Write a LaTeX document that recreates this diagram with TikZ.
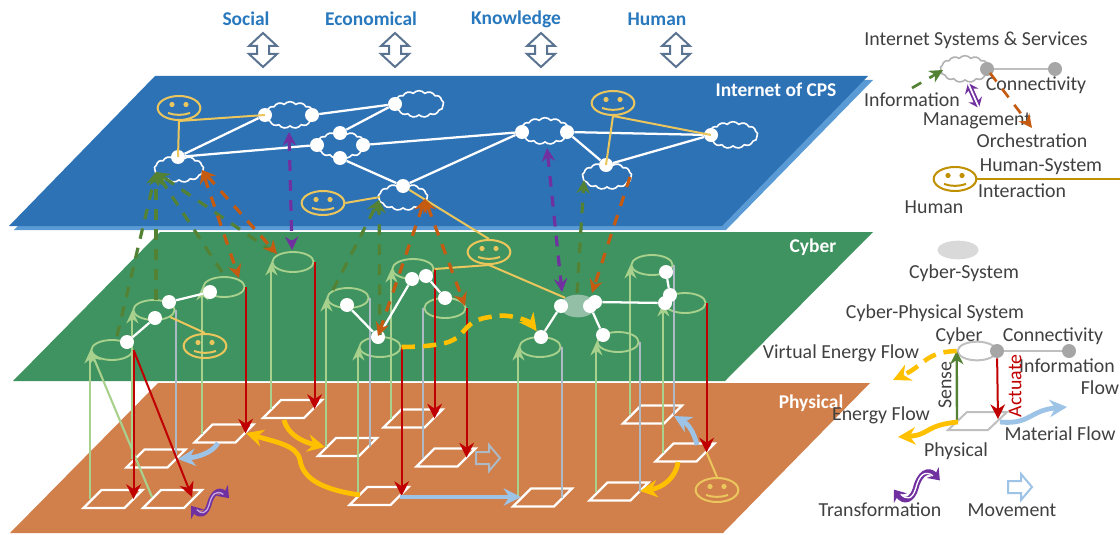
\documentclass[tikz,border=0pt]{standalone}
\usepackage{fontspec}
\setmainfont{Carlito}
\usetikzlibrary{arrows.meta,shapes.geometric,shapes.symbols,calc}
\definecolor{planeblue}{HTML}{2E72B6}
\definecolor{planeblue2}{HTML}{5B9BD5}
\definecolor{planegreen}{HTML}{3F9360}
\definecolor{planeorange}{HTML}{D17F4B}
\definecolor{smile}{HTML}{EBC65C}
\definecolor{smiledark}{HTML}{BF9000}
\definecolor{sensegreen}{HTML}{A9D18E}
\definecolor{cylgrey}{HTML}{AEB9C6}
\definecolor{actred}{HTML}{C00000}
\definecolor{flowyellow}{HTML}{FFC000}
\definecolor{flowblue}{HTML}{9DC3E6}
\definecolor{purp}{HTML}{7030A0}
\definecolor{dashorange}{HTML}{C55A11}
\definecolor{dashgreen}{HTML}{548235}
\definecolor{labelgrey}{HTML}{404040}
\definecolor{labelblue}{HTML}{2878BE}
\definecolor{topgrey}{HTML}{5A7391}
\definecolor{csysfill}{HTML}{92BFA6}
\definecolor{glyphinner}{HTML}{C8A8E0}
\tikzset{
  plane/.style={fill=#1,draw=none},
  netline/.style={draw=white,line width=1.7pt},
  dot/.style={circle,fill=white,draw=none,minimum size=10.5pt,inner sep=0pt},
  netcloud/.style={cloud,cloud puffs=13,cloud puff arc=100,aspect=2,draw=white,line width=1.2pt,minimum width=37pt,minimum height=20pt,inner sep=0pt},
  plate/.style={draw=white,line width=1.7pt},
  cyltop/.style={ellipse,draw=#1,line width=1.4pt,minimum width=31pt,minimum height=15pt,inner sep=0pt},
  sensearrow/.style={draw=sensegreen,line width=1.6pt,-{Stealth[length=10pt,width=9pt]}},
  cylside/.style={draw=cylgrey,line width=1.6pt},
  actarrow/.style={draw=actred,line width=1.5pt,-{Stealth[length=11pt,width=11pt]}},
  dpurple/.style={draw=purp,line width=2.4pt,dash pattern=on 8pt off 7pt,{Stealth[length=10pt,width=10pt]}-{Stealth[length=10pt,width=10pt]}},
  dorange/.style={draw=dashorange,line width=2.4pt,dash pattern=on 8pt off 7pt,{Stealth[length=10pt,width=10pt]}-{Stealth[length=10pt,width=10pt]}},
  dorangeone/.style={draw=dashorange,line width=2.4pt,dash pattern=on 8pt off 7pt,-{Stealth[length=10pt,width=10pt]}},
  dgreen/.style={draw=dashgreen,line width=2.4pt,dash pattern=on 8pt off 7pt,-{Stealth[length=10pt,width=10pt]}},
  yellowline/.style={draw=smile,line width=1.5pt},
  yflow/.style={draw=flowyellow,line width=3.6pt,-{Stealth[length=13pt,width=13pt]}},
  bflow/.style={draw=flowblue,line width=3.6pt,-{Stealth[length=13pt,width=13pt]}},
  yflowdash/.style={draw=flowyellow,line width=3.4pt,dash pattern=on 10pt off 6pt,-{Stealth[length=13pt,width=13pt]}},
  lab/.style={text=labelgrey,font=\fontsize{14.9}{16}\selectfont,inner sep=0pt},
  toplab/.style={text=labelblue,font=\fontsize{14.6}{16}\selectfont\bfseries,inner sep=0pt},
  planelab/.style={text=white,font=\fontsize{14.6}{16}\selectfont\bfseries,inner sep=0pt},
  legline/.style={draw=black!25,line width=1.7pt},
  legdot/.style={circle,fill=black!35,draw=none,minimum size=10.5pt,inner sep=0pt},
}
\newcommand{\plateat}[3]{\coordinate (#1) at (#2,#3);
  \draw[plate] (#1) ++(-29.5,9) -- ++(41,0) -- ++(18,-18) -- ++(-41,0) -- cycle;}
\newcommand{\face}[5][smile]{% name x y ; colour
  \node[ellipse,draw=#1,line width=1.5pt,minimum width=32pt,minimum height=18pt,inner sep=0pt] (#2) at (#3,#4) {};
  \fill[#1] (#3-7,#4-3.5) circle[radius=2.6];
  \fill[#1] (#3+7,#4-3.5) circle[radius=2.6];
  \draw[#1,line width=1.5pt] (#3-11,#4+5) .. controls (#3-4,#4+7.5) and (#3+4,#4+7.5) .. (#3+11,#4+5);#5}
\newcommand{\updown}[2]{\draw[topgrey,line width=1.5pt] (#1,#2-17) -- (#1+14,#2-4) -- (#1+6,#2-4) -- (#1+6,#2+4) -- (#1+14,#2+4) -- (#1,#2+17) -- (#1-14,#2+4) -- (#1-6,#2+4) -- (#1-6,#2-4) -- (#1-14,#2-4) -- cycle;}
\newcommand{\moveglyph}[3]{\draw[#3,line width=1.5pt] (#1-12,#2-6) -- (#1+1,#2-6) -- (#1+1,#2-13) -- (#1+12,#2) -- (#1+1,#2+13) -- (#1+1,#2+6) -- (#1-12,#2+6) -- cycle;}
\newcommand{\transglyph}[5]{\begin{scope}[shift={(#1,#2)},scale=#3]
  \draw[purp,line width=#5,{Stealth[length=8pt,width=12pt]}-{Stealth[length=8pt,width=12pt]}] (-21,4) .. controls (-12,16) and (-5,13) .. (-2,3) .. controls (1,-10) and (9,-15) .. (19,-4);
  \draw[#4,line width=1pt] (-15,8) .. controls (-10,13) and (-5,13) .. (-2,3) .. controls (1,-9) and (6,-13) .. (13,-8);
\end{scope}}
\begin{document}
\begin{tikzpicture}[x=0.75pt,y=-0.75pt]
\useasboundingbox (0,0) rectangle (1120,535);
% planes
\fill[plane=planeorange] (158,383) -- (870,383) -- (723,533) -- (10,533) -- cycle;
\fill[plane=planegreen] (160,232) -- (873,232) -- (725,381) -- (13,381) -- cycle;
\fill[plane=planeblue2] (159,80) -- (873,80) -- (726,230) -- (14,230) -- cycle;
\fill[plane=planeblue] (155,76) -- (868,76) -- (722,226) -- (9,226) -- cycle;
% top labels
\node[toplab] (tsoc) at (246,19) {Social};
\node[toplab] (teco) at (371,19) {Economical};
\node[toplab] (tkno) at (516,19) {Knowledge};
\node[toplab] (thum) at (657,19) {Human};
\updown{263}{50}\updown{395}{50}\updown{541}{50}\updown{676}{50}
\node[planelab] (lint) at (776,90) {Internet of CPS};
\node[planelab] (lcyb) at (813,247) {Cyber};
\node[planelab] (lphy) at (811,403) {Physical};
% plates
\plateat{P1}{113}{499}\plateat{P2}{172.5}{499}\plateat{P3}{156}{458.5}\plateat{P4}{224}{433.5}
\plateat{P5}{292.5}{409}\plateat{P6}{347.5}{447}\plateat{P7}{379}{496}\plateat{P8}{413}{418.5}
\plateat{P9}{446}{457.5}\plateat{P10}{542.5}{497.5}\plateat{P11}{619}{491.5}\plateat{P12}{652.5}{414.5}\plateat{P13}{685}{452.5}
% cylinders
\foreach \n/\x/\y in {cA/112/350,cB/154/310,cC/224/287,cD/293/262,cE/348/298,cF/380/347,cG/413/269,cH/445/308,cI/540/347,cJ/618/342,cK/652/265,cL/685/303}
  \node[cyltop=sensegreen] (\n) at (\x,\y) {};
\foreach \n/\p in {cA/P1,cB/P3,cC/P4,cD/P5,cE/P6,cF/P7,cG/P8,cI/P10,cJ/P11,cK/P12,cL/P13}
  \draw[sensearrow] (\n.west |- \p) -- (\n.west);
\foreach \n/\p in {cB/P3,cE/P6,cI/P10,cJ/P11,cK/P12}
  \draw[cylside] (\n.east) -- (\n.east |- \p);
\draw[cylside] (cH.west) -- (cH.west |- P9);
\coordinate (P2a) at (152,497);
\coordinate (P2b) at (192,497);
\draw[sensearrow] (P2a) -- (cA.west);
\foreach \n/\p in {cA/P1,cC/P4,cD/P5,cF/P7,cG/P8,cH/P9,cL/P13}
  \draw[actarrow] (\n.east) -- (\n.east |- \p);
\draw[actarrow] (cA.east) -- (P2b);
% physical flows
\coordinate (f1a) at (360,495); \coordinate (f1b) at (246,433);
\draw[yflow] (f1a) .. controls (325,490) and (303,480) .. (300,460) .. controls (297,445) and (275,442) .. (f1b);
\coordinate (f2a) at (284,420); \coordinate (f2b) at (325,447);
\draw[yflow] (f2a) .. controls (288,435) and (303,442) .. (f2b);
\coordinate (f3a) at (678,462); \coordinate (f3b) at (640,491);
\draw[yflow] (f3a) .. controls (676,478) and (662,488) .. (f3b);
\coordinate (f4a) at (400,497); \coordinate (f4b) at (521,497);
\draw[bflow] (f4a) -- (f4b);
\coordinate (f5a) at (218,443); \coordinate (f5b) at (178,459);
\draw[bflow] (f5a) .. controls (212,453) and (198,457) .. (f5b);
\coordinate (f6a) at (697,445); \coordinate (f6b) at (674,416);
\draw[bflow] (f6a) .. controls (694,432) and (688,424) .. (f6b);
\moveglyph{488}{458}{cylgrey}
\transglyph{211}{502}{0.95}{glyphinner}{3.6pt}
% cyber-system ellipse
\node[ellipse,fill=csysfill,draw=none,minimum width=27pt,minimum height=17pt,inner sep=0pt] (csys) at (578,306) {};
% cyber dots
\foreach \n/\x/\y in {e1/127/342,e2/155/318,e3/169/302,e4/210/292,e5/347/305,e6/378/337,e7/412/279,e8/426/276,e9/445/298,e10/541/337,e11/561/306,e12/590/306,e13/595/302,e14/603/335,e15/665/303,e16/670/295,e17/666/272}
  \node[dot] (\n) at (\x,\y) {};
\foreach \a/\b in {e1/e2,e3/e4,e5/e6,e6/e7,e8/e9,e10/e11,e12/e14,e13/e15,e16/e17}
  \draw[netline] (\a) -- (\b);
\coordinate (v1) at (453,340); \coordinate (v2) at (490,317);
\draw[yflowdash] (cF.east) .. controls (420,347) and (445,345) .. (v1) .. controls (465,335) and (465,320) .. (v2) .. controls (510,312) and (530,322) .. (e10);
% Internet clouds
\foreach \n/\x/\y in {n1/179/169,n2/290/115,n3/419/104,n4/341/145,n5/403/197,n6/545/131,n7/733/135,n8/607/176}
  \node[netcloud] (\n) at (\x,\y) {};
\foreach \n/\x/\y in {d1/178/157,d2/265/115,d3/312/115,d4/395/104,d5/340/133,d6/317/145,d7/363/145,d8/340/158,d9/403/186,d10/522/132,d11/567/132,d12/711/135,d13/606/165}
  \node[dot] (\n) at (\x,\y) {};
\foreach \a/\b in {d1/d2,d1/d6,d3/d4,d4/d5,d7/d10,d8/d9,d9/d10,d11/d12,d11/d13,d13/d12}
  \draw[netline] (\a) -- (\b);
% humans
\face{S1}{179}{108}{}
\face{S2}{323}{203}{}
\face{S3}{613}{103}{}
\face{S4}{489}{252}{}
\face{S5}{205}{346}{}
\face{S6}{717}{490}{}
\coordinate (c5w) at (380,197);
\coordinate (s5e) at (170,317);
\draw[yellowline] (S1.south) -- (d1.center);
\draw[yellowline] (S1.south) -- (d2.center);
\draw[yellowline] (S2.east) -- (c5w);
\draw[yellowline] (S3.south) -- (d13.center);
\draw[yellowline] (S3.south) -- (d12.center);
\draw[yellowline] (S4.north) -- (d9);
\draw[yellowline] (S4.south) -- (cG.east);
\draw[yellowline] (S4.south) -- (csys.north west);
\draw[yellowline] (S5.north) -- (s5e);
\draw[yellowline] (S6.north) -- (cL.east |- P13);
% dashed links
\coordinate (g1) at (156,172);
\coordinate (g1a) at (117,336); \coordinate (g1b) at (156,300); \coordinate (g1c) at (222,272); \coordinate (g1d) at (273,252);
\foreach \s in {g1a,g1b,g1c,g1d} \draw[dgreen] (\s) -- (g1);
\coordinate (g5) at (379,200);
\coordinate (g5a) at (333,290); \coordinate (g5b) at (380,335);
\foreach \s in {g5a,g5b} \draw[dgreen] (\s) -- (g5);
\coordinate (g8) at (584,180); \coordinate (g8a) at (577,293);
\draw[dgreen] (g8a) -- (g8);
\coordinate (o1) at (202,170); \coordinate (o1a) at (239,278); \coordinate (o1b) at (277,254);
\draw[dorange] (o1) -- (o1a);
\draw[dorange] (o1) -- (o1b);
\coordinate (o5) at (425,199); \coordinate (o5a) at (378,336); \coordinate (o5b) at (465,306);
\draw[dorange] (o5) -- (o5a);
\draw[dorange] (o5) -- (o5b);
\coordinate (o8) at (630,177); \coordinate (o8a) at (592,293);
\draw[dorangeone] (o8) -- (o8a);
\coordinate (pu1) at (289,132); \coordinate (pu1a) at (292,250);
\draw[dpurple] (pu1) -- (pu1a);
\coordinate (pu2) at (547,148); \coordinate (pu2a) at (562,292);
\draw[dpurple] (pu2) -- (pu2a);
% legend: internet
\node[lab] (l1) at (976,40) {Internet Systems \& Services};
\node[netcloud,draw=black!30] (lc) at (965,69) {};
\node[legdot] (ld1) at (987,69) {};
\node[legdot] (ld2) at (1055,69) {};
\draw[legline] (ld1) -- (ld2);
\node[lab] (l2) at (1036,85) {Connectivity};
\node[lab] (l3) at (912,100) {Information};
\coordinate (li1) at (912,88); \coordinate (li2) at (943,70);
\draw[dgreen,line width=2pt] (li1) -- (li2);
\coordinate (lm1) at (968,83); \coordinate (lm2) at (979,108);
\draw[purp,line width=4pt,{Stealth[length=7pt,width=11pt]}-{Stealth[length=7pt,width=11pt]}] (lm1) -- (lm2);
\draw[white,line width=1.3pt] (lm1) -- (lm2);
\node[lab] (l4) at (977,121) {Management};
\coordinate (lo1) at (990,73); \coordinate (lo2) at (1032,128);
\draw[dorangeone,line width=2pt] (lo1) -- (lo2);
\node[lab] (l5) at (1032,141) {Orchestration};
\node[lab] (l6) at (1041,167) {Human-System};
\node[lab] (l7) at (1022,191) {Interaction};
\face[smiledark]{Sl}{955}{179}{}
\coordinate (lh) at (1120,179);
\draw[draw=smiledark,line width=2pt] (Sl.east) -- (lh);
\node[lab] (l8) at (934,207) {Human};
\node[ellipse,fill=black!15,draw=none,minimum width=31pt,minimum height=14pt,inner sep=0pt] (lsys) at (958,250) {};
\node[lab] (l9) at (964,273) {Cyber-System};
% legend: CPS
\node[lab] (l10) at (935,313) {Cyber-Physical System};
\node[lab] (l11) at (959,336) {Cyber};
\node[lab] (l12) at (1053,336) {Connectivity};
\node[lab] (l13) at (841,353) {Virtual Energy Flow};
\node[lab] (l14) at (1067,366) {Information};
\node[lab] (l15) at (1100,388) {Flow};
\node[lab,rotate=90] (l16) at (945,385) {Sense};
\node[lab,rotate=90,text=actred] (l17) at (1015,386) {Actuate};
\node[lab] (l18) at (881,415) {Energy Flow};
\node[lab] (l19) at (1060,434) {Material Flow};
\node[lab] (l20) at (956,451) {Physical};
\node[lab] (l21) at (880,510) {Transformation};
\node[lab] (l22) at (1012,510) {Movement};
\node[ellipse,draw=black!25,line width=1.5pt,minimum width=29pt,minimum height=14pt,inner sep=0pt] (lcy) at (977,351) {};
\draw[black!25,line width=1.5pt] (948,430) -- (988,430) -- (1007,412) -- (967,412) -- cycle;
\node[legdot] (ld3) at (997,351) {};
\node[legdot] (ld4) at (1069,351) {};
\draw[legline] (ld3) -- (ld4);
\coordinate (lp1) at (957,420); \coordinate (lp2) at (998,419);
\draw[draw=dashgreen,line width=1.8pt,-{Stealth[length=10pt,width=10pt]}] (lp1) -- (lcy.west);
\draw[actarrow] (ld3) -- (lp2);
\coordinate (lv) at (893,380);
\draw[yflowdash] (lcy.west) .. controls (925,352) and (925,365) .. (lv);
\coordinate (le1) at (958,422); \coordinate (le2) at (898,437);
\draw[yflow] (le1) .. controls (925,425) and (930,435) .. (le2);
\coordinate (lf1) at (1000,422); \coordinate (lf2) at (1067,407);
\draw[bflow] (lf1) .. controls (1030,425) and (1030,410) .. (lf2);
\transglyph{918}{485}{1.15}{white}{4.2pt}
\moveglyph{1020}{487}{flowblue}
\end{tikzpicture}
\end{document}
